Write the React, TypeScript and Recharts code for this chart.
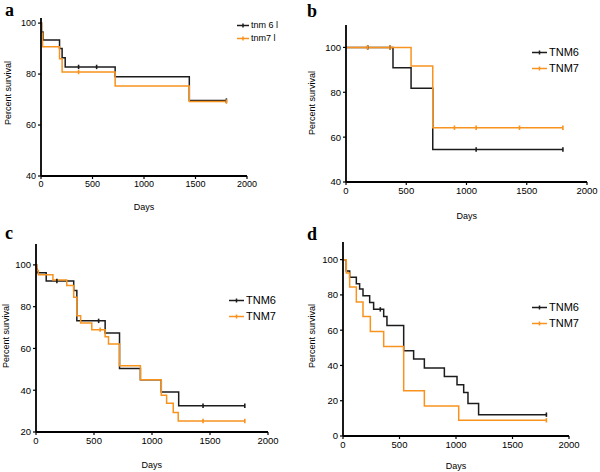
import React from 'react';
import { LineChart, Line, XAxis, YAxis } from 'recharts';

// [day, percent survival, censored(1)/event(0)]
const A_TNM6: number[][] = [[0,100,0],[5,96.5,0],[19,93.4,0],[180,90,0],[205,86.4,0],[235,82.8,0],[365,82.8,1],[540,82.8,1],[720,78.9,0],[1440,69.6,0],[1800,69.6,1]];
const A_TNM7: number[][] = [[0,100,0],[5,96,0],[15,90.7,0],[180,86,0],[205,80.8,0],[365,80.8,1],[720,75.3,0],[1440,69.2,0],[1800,69.2,1]];

const B_TNM6: number[][] = [[0,100,0],[180,100,1],[365,100,1],[390,90.9,0],[540,81.8,0],[720,54.5,0],[1080,54.5,1],[1800,54.5,1]];
const B_TNM7: number[][] = [[0,100,0],[180,100,1],[365,100,1],[540,91.7,0],[720,64.2,0],[900,64.2,1],[1080,64.2,1],[1440,64.2,1],[1800,64.2,1]];

const C_TNM6: number[][] = [[0,100,0],[5,98,0],[10,96.2,0],[88,92.3,0],[180,92.3,1],[325,87.7,0],[352,73.2,0],[540,73.2,1],[596,67.4,0],[720,50.4,0],[900,45,0],[1080,39.2,0],[1230,32.6,0],[1440,32.6,1],[1800,32.6,1]];
const C_TNM7: number[][] = [[0,100,0],[8,97.3,0],[20,95.3,0],[146,92.8,0],[265,90.1,0],[325,84.5,0],[352,75.7,0],[385,72.2,0],[481,69,0],[553,69,1],[596,65.6,0],[625,62.1,0],[720,51.7,0],[900,45,0],[1080,37.6,0],[1126,33.8,0],[1183,29.3,0],[1226,25.3,0],[1440,25.3,1],[1800,25.3,1]];

const D_TNM6: number[][] = [[0,100,0],[29,93.5,0],[59,90,0],[118,86.3,0],[147,83.3,0],[177,79.5,0],[236,75.7,0],[271,71.8,0],[330,71.8,1],[360,67.7,0],[389,62.7,0],[537,48.3,0],[625,43.6,0],[720,38.6,0],[897,33.7,0],[1009,29,0],[1068,24.6,0],[1106,18.4,0],[1200,12.1,0],[1800,12.1,1]];
const D_TNM7: number[][] = [[0,100,0],[29,92.4,0],[59,84.5,0],[118,76,0],[177,67.8,0],[242,59.3,0],[360,50.8,0],[537,25.6,0],[720,17,0],[1024,8.9,0],[1800,8.9,1]];

const X_TICKS = [0, 500, 1000, 1500, 2000];
const LEGEND_A = ['tnm 6 l', 'tnm7 l'];
const LEGEND_BCD = ['TNM6', 'TNM7'];

const BLACK = '#1c1c1c';
const ORANGE = '#f7931e';
const FONT = '"Liberation Sans", Arial, sans-serif';

const toRows = (arr: number[][]) => arr.map(([t, s, c]) => ({ t, s, c }));

const censorDot = (color: string) => (props: any) => {
  const { cx, cy, payload, index } = props;
  if (!payload || !payload.c || cx == null) return <g key={`n${index}`} />;
  return (
    <line key={`c${index}`} x1={cx} x2={cx} y1={cy - 2.2} y2={cy + 2.2} stroke={color} strokeWidth={1.6} />
  );
};

type PanelCfg = {
  letter: string;
  x: number; y: number;
  margin: { top: number; right: number; bottom: number; left: number };
  yWidth: number;
  yDomain: [number, number];
  yTicks: number[];
  s6: number[][]; s7: number[][];
  legend: string[];
  legendX: number; legendY: number; legendFont: number; legendGap: number;
  ylab: [number, number]; xlab: [number, number];
  letterPos: [number, number];
  tickFont: number;
};

const PANELS: PanelCfg[] = [
  { letter: 'a', x: 0, y: 0, margin: { top: 18, right: 53, bottom: 40, left: 0 }, yWidth: 41, yDomain: [40, 102], yTicks: [40, 60, 80, 100], s6: A_TNM6, s7: A_TNM7, legend: LEGEND_A, legendX: 237, legendY: 25, legendFont: 9, legendGap: 13, ylab: [8, 93], xlab: [144, 207], letterPos: [5, 0], tickFont: 9 },
  { letter: 'b', x: 300, y: 0, margin: { top: 25, right: 13, bottom: 34, left: 0 }, yWidth: 46, yDomain: [40, 110], yTicks: [40, 60, 80, 100], s6: B_TNM6, s7: B_TNM7, legend: LEGEND_BCD, legendX: 532, legendY: 52, legendFont: 11, legendGap: 16, ylab: [311.5, 103], xlab: [466.7, 216], letterPos: [307, 1], tickFont: 9.5 },
  { letter: 'c', x: 0, y: 236, margin: { top: 8, right: 32, bottom: 20, left: 0 }, yWidth: 36, yDomain: [20, 110], yTicks: [20, 40, 60, 80, 100], s6: C_TNM6, s7: C_TNM7, legend: LEGEND_BCD, legendX: 229, legendY: 300, legendFont: 11, legendGap: 16, ylab: [5.5, 336], xlab: [151.7, 465], letterPos: [5, 223], tickFont: 9.5 },
  { letter: 'd', x: 300, y: 236, margin: { top: 6, right: 31, bottom: 16, left: 0 }, yWidth: 43, yDomain: [0, 110], yTicks: [0, 20, 40, 60, 80, 100], s6: D_TNM6, s7: D_TNM7, legend: LEGEND_BCD, legendX: 532, legendY: 307, legendFont: 11, legendGap: 16, ylab: [311.5, 336], xlab: [456, 466], letterPos: [307, 224], tickFont: 9.5 },
];

const Panel = ({ p }: { p: PanelCfg }) => {
  const tick = { fontSize: p.tickFont, fill: '#000', fontFamily: FONT };
  return (
    <>
      <div style={{ position: 'absolute', left: p.x, top: p.y }}>
        <LineChart width={300} height={236} margin={p.margin}>
          <XAxis type="number" dataKey="t" domain={[0, 2000]} ticks={X_TICKS} interval={0}
            allowDataOverflow height={20} tick={tick} tickSize={3} tickMargin={2}
            axisLine={{ stroke: '#000', strokeWidth: 1.8 }} tickLine={{ stroke: '#000', strokeWidth: 1.2 }} />
          <YAxis type="number" domain={p.yDomain} ticks={p.yTicks} interval={0} allowDataOverflow
            width={p.yWidth} tick={tick} tickSize={3} tickMargin={2}
            axisLine={{ stroke: '#000', strokeWidth: 1.8 }} tickLine={{ stroke: '#000', strokeWidth: 1.2 }} />
          <Line data={toRows(p.s6)} dataKey="s" type="stepAfter" stroke={BLACK} strokeWidth={1.5}
            dot={censorDot(BLACK)} activeDot={false} isAnimationActive={false} />
          <Line data={toRows(p.s7)} dataKey="s" type="stepAfter" stroke={ORANGE} strokeWidth={1.5}
            dot={censorDot(ORANGE)} activeDot={false} isAnimationActive={false} />
        </LineChart>
      </div>
      <div style={{ position: 'absolute', left: p.letterPos[0], top: p.letterPos[1], fontFamily: '"Liberation Serif", "Times New Roman", serif', fontWeight: 'bold', fontSize: 18, lineHeight: '20px' }}>{p.letter}</div>
      <div style={{ position: 'absolute', left: p.ylab[0], top: p.ylab[1], transform: 'translate(-50%, -50%) rotate(-90deg)', fontFamily: FONT, fontSize: 9, whiteSpace: 'nowrap', lineHeight: '10px' }}>Percent survival</div>
      <div style={{ position: 'absolute', left: p.xlab[0], top: p.xlab[1], transform: 'translate(-50%, -50%)', fontFamily: FONT, fontSize: 9, whiteSpace: 'nowrap', lineHeight: '10px' }}>Days</div>
      {p.legend.map((name, i) => {
        const color = i === 0 ? BLACK : ORANGE;
        const lw = p.legendFont > 10 ? 15 : 12;
        return (
          <div key={name} style={{ position: 'absolute', left: p.legendX, top: p.legendY + i * p.legendGap, transform: 'translateY(-50%)', display: 'flex', alignItems: 'center', fontFamily: FONT, fontSize: p.legendFont, whiteSpace: 'nowrap', lineHeight: `${p.legendFont + 2}px` }}>
            <svg width={lw} height={6} style={{ marginRight: 2 }}>
              <line x1={0} x2={lw} y1={3} y2={3} stroke={color} strokeWidth={1.5} />
              <line x1={lw / 2} x2={lw / 2} y1={1} y2={5} stroke={color} strokeWidth={1.5} />
            </svg>
            <span>{name}</span>
          </div>
        );
      })}
    </>
  );
};

export default function App() {
  return (
    <div style={{ position: 'absolute', left: 0, top: 0, width: 600, height: 472, background: '#fff', overflow: 'hidden' }}>
      {PANELS.map((p) => <Panel key={p.letter} p={p} />)}
    </div>
  );
}
